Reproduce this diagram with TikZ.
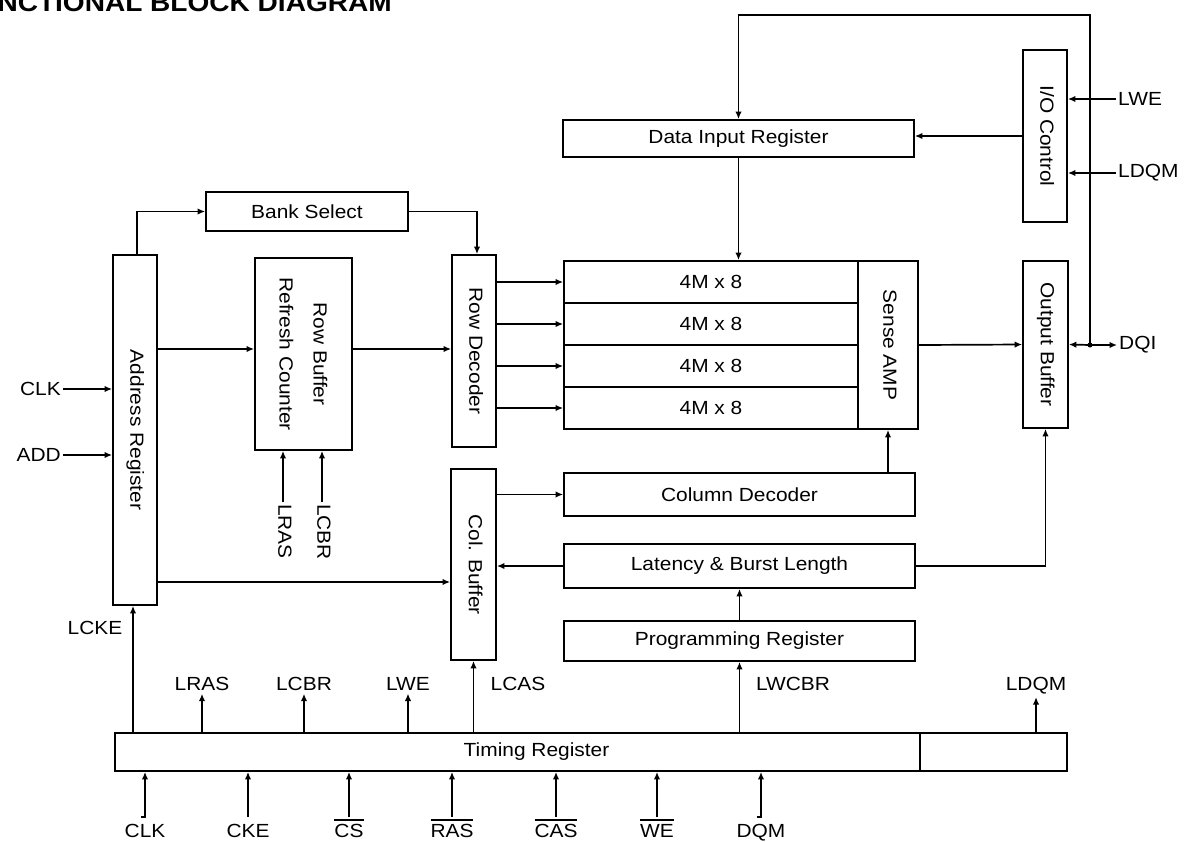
\documentclass[tikz,border=0pt]{standalone}
\usepackage{fontspec}
\setmainfont{Liberation Sans}[FakeStretch=1.1]
\usepackage{graphicx}
\usetikzlibrary{arrows.meta,positioning}

\newcommand{\diagfont}{\fontsize{19}{23}\selectfont}
\newcommand{\vtxt}[1]{\rotatebox{-90}{\begin{tabular}{@{}c@{}}#1\end{tabular}}}
\newcommand{\barsig}[1]{\vbox{\hrule height 1.6pt \kern 3pt \hbox{#1}}}

\begin{document}
\begin{tikzpicture}[
  x=1pt, y=-1pt,
  every node/.style={font=\diagfont},
  box/.style={draw, line width=1.8pt, inner sep=0pt},
  sig/.style={line width=1.7pt},
  >={Latex[length=7.5pt,width=6.5pt]}
]
  \useasboundingbox (0,0) rectangle (1185,841);

  \node[anchor=base west, font=\fontsize{25.5}{26}\selectfont\bfseries] (title)
    at (-6,11) {NCTIONAL BLOCK DIAGRAM};

  % left column
  \node[box, minimum width=44pt, minimum height=350pt] (addr) at (135,430)
    {\vtxt{Address Register}};
  \node[box, minimum width=202pt, minimum height=39pt] (bank) at (307,211.5)
    {Bank Select};
  \node[box, minimum width=97pt, minimum height=192pt] (rbuf) at (303.5,354)
    {\fontsize{19}{34}\selectfont\vtxt{Row Buffer\\Refresh Counter}};
  \node[box, minimum width=44pt, minimum height=192pt] (rdec) at (474,351)
    {\vtxt{Row Decoder}};
  \node[box, minimum width=45pt, minimum height=191pt] (colbuf) at (473.5,564.5)
    {\vtxt{Col. Buffer}};

  % memory array
  \foreach \i/\y in {1/282,2/324,3/366,4/408}
    \node[box, minimum width=294pt, minimum height=42pt] (r\i) at (711,\y)
      {4M x 8};
  \node[box, minimum width=60pt, minimum height=168pt] (samp) at (888,345)
    {\vtxt{Sense AMP}};

  \node[box, minimum width=351pt, minimum height=37pt] (datain) at (738.5,138.5)
    {Data Input Register};
  \node[box, minimum width=351pt, minimum height=43pt] (coldec) at (739.5,494.5)
    {Column Decoder};
  \node[box, minimum width=351pt, minimum height=44pt] (lat) at (739.5,566)
    {Latency \& Burst Length};
  \node[box, minimum width=351pt, minimum height=40pt] (prog) at (739.5,641)
    {Programming Register};

  % i/o side
  \node[box, minimum width=44pt, minimum height=172pt] (iocon) at (1045,136)
    {\vtxt{I/O Control}};
  \node[box, minimum width=45pt, minimum height=167pt] (obuf) at (1045.5,344.5)
    {\vtxt{Output Buffer}};

  % timing register
  \node[box, minimum width=805pt, minimum height=38pt,
        label={[xshift=19pt]center:Timing Register}] (tr) at (517.5,752) {};
  \node[box, minimum width=147pt, minimum height=38pt] (tr2) at (993.5,752) {};

  % outside labels
  \node[anchor=east, inner sep=2pt] (clk) at (63,389) {CLK};
  \node[anchor=east, inner sep=2pt] (add) at (63,455) {ADD};
  \node (lcke) at (95,628) {LCKE};
  \node[anchor=north, inner sep=2pt] (lrasv) at (283,502) {\vtxt{LRAS}};
  \node[anchor=north, inner sep=2pt] (lcbrv) at (322,502) {\vtxt{LCBR}};
  \node[anchor=west, inner sep=2pt] (lwe) at (1116,99) {LWE};
  \node[anchor=west, inner sep=2pt] (ldqm) at (1116,173) {LDQM};
  \node[anchor=west, inner sep=2pt] (dqi) at (1117,345) {DQI};

  \node[anchor=base] (lras) at (202,690) {LRAS};
  \node[anchor=base] (lcbr) at (304,690) {LCBR};
  \node[anchor=base] (lwet) at (408,690) {LWE};
  \node[anchor=base] (lcas) at (518,690) {LCAS};
  \node[anchor=base] (lwcbr) at (793,690) {LWCBR};
  \node[anchor=base] (ldqmt) at (1036,690) {LDQM};

  \node[anchor=base] (iclk) at (145,837) {CLK};
  \node[anchor=base] (icke) at (248,837) {CKE};
  \node[anchor=base] (ics) at (349,837) {\barsig{CS}};
  \node[anchor=base] (iras) at (452,837) {\barsig{RAS}};
  \node[anchor=base] (icas) at (556,837) {\barsig{CAS}};
  \node[anchor=base] (iwe) at (657,837) {\barsig{WE}};
  \node[anchor=base] (idqm) at (761,837) {DQM};

  \coordinate (jn) at (1090,345);

  % connectors
  \draw[sig, ->] ([xshift=2pt]addr.north) |- (bank.west);
  \draw[sig, ->] (bank.east) -| ([xshift=3pt]rdec.north);
  \draw[sig, ->] (addr.east |- 0,349) -- (rbuf.west |- 0,349);
  \draw[sig, ->] (rbuf.east |- 0,349) -- (rdec.west |- 0,349);
  \draw[sig, ->] (addr.east |- 0,582) -- (colbuf.west |- 0,582);
  \draw[sig, ->] (clk.east) -- (clk.east -| addr.west);
  \draw[sig, ->] (add.east) -- (add.east -| addr.west);
  \draw[sig, ->] (lrasv.north) -- (lrasv.north |- rbuf.south);
  \draw[sig, ->] (lcbrv.north) -- (lcbrv.north |- rbuf.south);
  \foreach \i in {1,...,4}
    \draw[sig, ->] (rdec.east |- r\i) -- (r\i.west);

  \draw[sig, ->] (jn) -- (jn |- 0,15) -| (datain.north);
  \draw[sig, ->] (iocon.west) -- (iocon.west -| datain.east);
  \draw[sig, ->] (lwe.west) -- (lwe.west -| iocon.east);
  \draw[sig, ->] (ldqm.west) -- (ldqm.west -| iocon.east);
  \draw[sig, ->] (datain.south) -- (datain.south |- r1.north);
  \draw[sig, ->] (samp.east) -- (obuf.west);
  \draw[sig, ->] (jn) -- (obuf.east);
  \draw[sig, ->] (jn) -- (dqi.west);
  \fill (jn) circle (2.5pt);

  \draw[sig, ->] (coldec.north -| samp) -- (samp.south);
  \draw[sig, ->] (colbuf.east |- coldec) -- (coldec.west);
  \draw[sig, ->] (lat.west) -- (lat.west -| colbuf.east);
  \draw[sig, ->] (lat.east) -| (obuf.south);
  \draw[sig, ->] (prog.north) -- (lat.south);

  % timing register outputs
  \draw[sig, ->] ([xshift=-2pt]tr.north -| addr) -- ([xshift=-2pt]addr.south);
  \foreach \n in {lras,lcbr,lwet}
    \draw[sig, ->] (tr.north -| \n) -- (\n.south);
  \draw[sig, ->] (tr.north -| colbuf) -- (colbuf.south);
  \draw[sig, ->] (tr.north -| prog) -- (prog.south);
  \draw[sig, ->] (tr2.north -| ldqmt) -- (ldqmt.south);

  % timing register inputs
  \draw[sig, ->] (iclk |- 0,817) ++(-4,0) -- ++(4,0) -- (iclk |- tr.south);
  \draw[sig, ->] (idqm |- 0,817) ++(-4,0) -- ++(4,0) -- (idqm |- tr.south);
  \foreach \n in {icke,ics,iras,icas,iwe}
    \draw[sig, ->] (\n |- 0,817) -- (\n |- tr.south);
\end{tikzpicture}
\end{document}
